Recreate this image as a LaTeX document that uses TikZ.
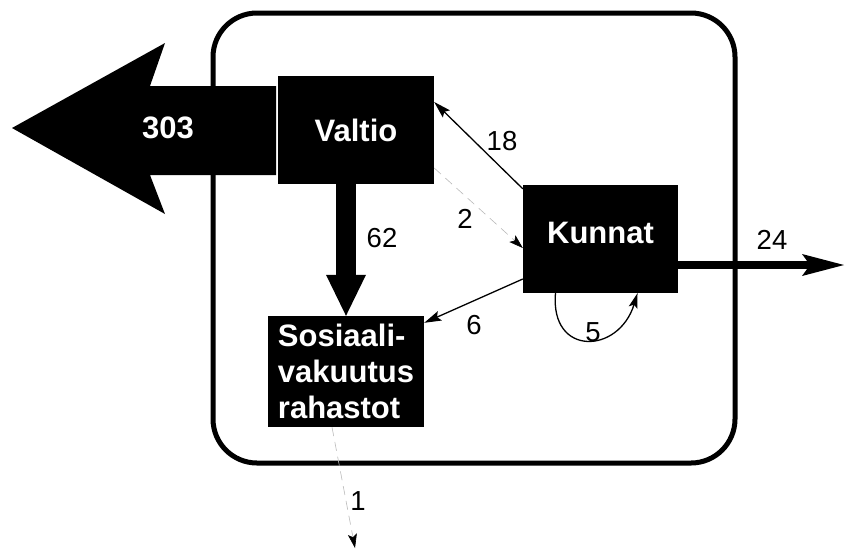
\documentclass[tikz,border=0pt]{standalone}
\usepackage{fontspec}
\setmainfont{Liberation Sans}
\usepackage{tikz}
\usetikzlibrary{arrows.meta,calc}

\begin{document}
\begin{tikzpicture}[x=1pt, y=1pt,
      sector/.style={fill=black, text=white, inner sep=0pt, font=\fontsize{31}{36}\selectfont\bfseries},
      flowlabel/.style={inner sep=0pt, font=\fontsize{27.5}{30}\selectfont},
      thinflow/.style={line width=1.3pt, -{Stealth[length=17pt, width=10pt, inset=3pt]}},
      faintflow/.style={draw=gray!55, line width=0.6pt, dash pattern=on 9pt off 6pt, -{Stealth[length=14pt, width=9pt, inset=3pt, color=black]}}
    ]
      \useasboundingbox (0,0) rectangle (845,-550);
      \draw[line width=5pt, rounded corners=44pt] (213,-13) rectangle (735,-463);

      \node[sector, minimum width=156pt, minimum height=108pt] (valtio) at (356,-130) {Valtio};
      \node[sector, minimum width=155pt, minimum height=108pt, text depth=12pt] (kunnat) at (600.5,-239) {Kunnat};
      \node[sector, minimum width=156pt, minimum height=111pt, align=left] (sosiaali) at (346,-371.5) {Sosiaali-\\vakuutus\\rahastot};

      % big outflow from Valtio
      \fill (276,-86) -- (150,-86) -- (165,-43) -- (12,-128) -- (165,-214) -- (150,-175) -- (276,-175) -- cycle;
      \node[text=white, inner sep=0pt, font=\fontsize{31}{36}\selectfont\bfseries] (out303) at (168,-128) {303};

      \draw[line width=20pt, -{Triangle[length=41pt, width=40pt, line width=0pt]}] (sosiaali.north |- valtio.south) -- (sosiaali.north);
      \node[flowlabel] (l62) at (382,-238.5) {62};

      \draw[thinflow] ([yshift=-4pt]kunnat.north west) -- ([yshift=28pt]valtio.east);
      \node[flowlabel] (l18) at (502,-141) {18};

      \draw[faintflow] ([yshift=-38pt]valtio.east) -- ([yshift=-9pt]kunnat.west);
      \node[flowlabel] (l2) at (465,-219) {2};

      \draw[thinflow] ([yshift=-40pt]kunnat.west) -- ([yshift=-7pt]sosiaali.north east);
      \node[flowlabel] (l6) at (474,-325) {6};

      \draw[line width=1.3pt, -{Stealth[length=15pt, width=9pt, inset=3pt]}] ([xshift=-45pt]kunnat.south) to[out=265, in=253, looseness=2] ([xshift=37pt]kunnat.south);
      \node[flowlabel] (l5) at (593,-332) {5};

      \coordinate (out24) at (844,-265);
      \draw[line width=8pt, -{Stealth[length=42pt, width=22pt, inset=8pt, line width=0pt]}] ([yshift=-26pt]kunnat.east) -- (out24);
      \node[flowlabel] (l24) at (772,-240) {24};

      \coordinate (out1) at (355,-548);
      \draw[faintflow] ([xshift=-14pt]sosiaali.south) -- (out1);
      \node[flowlabel] (l1) at (358,-501) {1};
    \end{tikzpicture}
\end{document}
